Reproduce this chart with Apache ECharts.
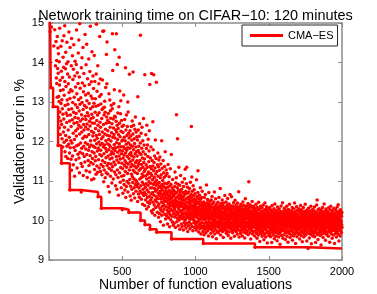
<!DOCTYPE html>
<html><head><meta charset="utf-8">
<script src="https://cdn.jsdelivr.net/npm/echarts@6/dist/echarts.min.js"></script>
<style>html,body{margin:0;padding:0;background:#fff}#c{width:377px;height:294px}</style>
</head><body><div id="c"></div>
<script>
const chartTitle = 'Network training time on CIFAR\u221210: 120 minutes';
const seriesName = 'CMA\u2212ES';
const xTicks = [0, 500, 1000, 1500, 2000];
const yTicks = [9, 10, 11, 12, 13, 14, 15];
// best-so-far validation error (step line): evaluation at which it improved, and the new value
const bestEvals = [1, 8, 12, 28, 62, 85, 142, 220, 335, 357, 500, 545, 625, 655, 690, 735, 836, 1053, 1406, 1768, 2000];
const bestErr = [15.62, 14.78, 13.36, 12.88, 11.9, 11.45, 10.77, 10.72, 10.6, 10.31, 10.27, 10.2, 10.0, 9.89, 9.78, 9.7, 9.53, 9.42, 9.32, 9.29, 9.29];
// validation error of each function evaluation (evaluation number = index + 1)
const errs = [
15.62,18.4,21.7,16.9,19.3,17.2,24.5,14.78,16.1,20.6,15.9,13.36,17.8,15.4,22.1,16.6,14.9,19.9,15.7,18.2,16.3,26.4,15.2,17.5,20.3,15.8,16.7,12.88,18.9,15.3,16.4,21.2,14.42,17.1,15.6,19.5,16.2,15.1,14.83,18.7,16.9,15.5,20.8,13.92,17.4,15.2,16.5,14.53,19.2,13.61,
16.8,14.05,13.47,19.1,15.3,13.12,14.66,17.9,13.85,15.7,14.37,11.9,13.73,16.2,14.22,13.14,12.61,15.9,13.01,14.02,12.34,13.43,14.87,18.3,12.75,13.55,12.18,15.4,13.29,12.52,14.41,12.96,16.6,13.78,11.45,12.43,15.2,13.06,12.07,14.55,12.83,13.62,17.4,11.86,12.69,14.13,13.31,12.24,15.6,13.88,
12.57,14.68,11.98,13.17,16.1,12.36,14.93,13.52,11.74,12.91,15.3,13.84,12.15,14.26,11.62,13.39,12.72,18.2,12.03,13.97,12.48,14.51,11.88,13.05,15.8,12.66,13.71,11.57,12.94,14.02,12.29,13.46,16.4,11.93,12.81,14.77,13.24,12.11,13.63,11.71,12.52,10.77,13.09,14.38,11.84,12.67,15.1,13.31,12.02,11.55,
12.38,13.92,11.27,14.61,12.83,15.7,11.96,13.28,12.55,14.17,11.63,12.99,13.57,17.1,12.21,11.41,13.83,12.74,14.45,11.85,12.46,13.12,15.2,12.05,11.12,13.66,12.61,14.03,11.77,12.93,13.38,12.27,16.3,11.54,12.71,13.95,12.14,14.82,11.89,13.21,12.48,11.33,13.74,12.86,15.4,12.32,11.68,13.47,12.59,14.24,
11.92,13.06,12.41,14.57,11.58,12.77,13.63,11.21,12.19,14.98,12.94,11.73,13.35,12.52,15.5,11.96,13.11,12.36,11.44,10.72,13.87,12.68,11.83,12.24,14.12,12.99,11.37,13.48,12.57,11.69,12.08,14.38,12.81,11.14,13.26,12.43,11.88,13.72,12.29,16.2,11.62,12.91,13.41,12.13,11.48,14.71,12.64,11.97,13.18,12.37,
11.81,12.56,13.94,11.26,12.87,12.12,14.46,11.67,13.03,12.44,11.09,12.73,13.59,11.93,15.3,12.31,11.52,13.22,12.65,11.78,14.09,12.18,11.39,12.96,13.44,11.86,12.51,11.23,13.77,12.39,11.64,14.92,12.83,12.02,11.47,13.15,12.58,11.91,13.51,12.26,11.03,12.69,14.27,11.74,12.47,13.09,11.57,12.88,12.14,13.66,
11.43,12.61,11.88,13.34,12.22,11.06,12.97,11.71,14.18,12.46,11.29,12.03,13.52,11.85,12.74,11.51,13.08,12.33,11.62,12.89,11.17,13.71,12.15,14.97,11.94,12.53,11.38,13.27,12.08,11.76,12.67,11.22,13.92,12.41,10.6,11.83,12.92,11.54,12.27,13.46,11.99,12.73,11.33,12.18,13.14,14.66,11.67,12.49,11.91,13.58,
11.24,12.36,11.78,12.95,11.42,13.19,10.31,12.07,11.63,12.58,11.16,12.81,11.95,12.24,13.56,11.51,14.79,12.12,11.37,12.85,11.86,12.43,10.98,14.8,11.69,12.67,11.28,12.87,11.91,13.02,12.19,11.47,12.74,11.08,12.31,11.82,13.37,12.02,11.59,12.46,11.21,14.2,11.75,12.62,13.46,14.52,11.39,12.16,11.94,12.53,
11.18,12.27,11.63,10.86,12.71,11.44,12.05,11.79,13.21,11.32,12.48,11.91,10.72,12.14,13.05,11.56,12.36,11.87,12.78,11.12,12.59,11.68,12.01,11.43,12.92,11.27,12.22,11.74,10.95,12.45,11.58,12.83,14.73,11.36,13.8,12.11,11.82,12.57,11.05,12.34,11.69,12.96,11.48,12.18,11.92,13.31,11.23,12.64,14.32,11.77,
12.09,11.41,12.62,10.88,11.84,12.29,11.16,12.51,11.62,14.73,11.97,12.24,10.79,11.53,12.41,13.95,11.28,12.05,11.73,12.72,11.09,12.33,11.86,10.64,12.17,11.47,12.88,11.63,14.13,11.94,12.46,11.21,13.28,11.78,12.12,10.97,11.56,12.7,11.34,13.03,11.87,12.26,10.83,11.69,12.53,11.12,12.01,11.45,12.38,10.27,
11.76,12.04,11.31,10.69,12.23,11.58,11.02,11.87,12.41,13.18,11.14,11.66,10.91,12.11,11.39,11.82,12.56,10.77,11.51,12.02,11.24,13.87,11.71,10.58,12.29,11.46,11.93,10.86,12.67,11.35,11.78,12.15,10.99,11.62,12.38,11.19,11.84,13.0,10.72,12.75,11.43,11.97,12.21,10.94,10.2,11.57,12.09,11.28,13.7,11.68,
11.04,11.83,12.27,10.62,11.49,11.91,10.87,12.14,11.36,11.72,10.51,12.38,11.17,11.64,12.03,10.79,11.42,12.52,11.11,11.88,10.96,11.53,12.19,13.76,11.27,10.68,11.79,12.41,11.06,11.61,10.83,12.07,11.38,11.95,10.57,12.31,11.22,11.69,10.91,12.62,11.47,11.02,11.86,10.74,12.24,11.33,11.74,10.99,12.12,11.51,
10.86,11.63,11.19,12.04,10.48,13.13,11.38,10.93,11.77,12.29,10.67,11.44,11.88,10.82,12.13,11.27,10.59,11.71,12.45,11.05,11.52,10.74,11.96,14.69,10.0,11.31,10.88,11.67,12.21,10.54,11.42,11.09,11.83,10.69,12.36,11.18,10.97,11.58,10.41,12.02,11.35,10.79,11.74,11.12,12.58,10.63,11.47,10.91,11.91,11.24,
10.71,11.56,10.38,13.69,9.89,11.29,10.84,11.68,10.52,11.13,12.17,10.66,11.41,10.93,11.82,10.29,11.05,12.41,10.77,11.34,10.58,11.91,11.17,10.46,11.62,10.89,12.06,10.35,11.23,10.72,11.49,10.98,11.76,10.61,12.27,11.08,10.43,13.44,11.37,9.78,10.82,11.58,10.51,11.19,10.94,11.86,10.67,11.31,10.24,13.72,
10.57,11.14,10.83,11.52,10.19,11.03,10.71,11.38,12.5,10.46,11.79,10.92,10.28,11.26,13.69,10.64,11.47,10.39,11.09,10.81,11.63,10.13,10.97,11.33,10.52,12.04,10.74,11.18,10.33,10.89,11.57,10.61,13.5,11.02,9.7,10.47,11.24,10.78,10.21,11.41,10.93,10.56,11.71,10.37,11.12,10.69,11.36,10.08,10.84,11.53,
10.42,10.96,10.18,11.27,10.63,10.87,11.61,10.31,10.74,11.08,9.97,10.55,11.43,10.68,10.26,11.16,10.82,10.47,12.02,10.13,10.91,10.59,11.32,10.36,10.77,11.01,10.22,10.65,11.52,10.44,9.88,10.86,11.21,10.53,10.29,11.09,10.71,10.38,11.37,10.94,10.16,10.62,11.74,10.49,10.83,10.04,11.13,10.57,10.76,11.28,
10.34,10.67,10.12,10.93,10.48,11.19,10.26,10.71,9.91,10.56,10.84,10.19,11.42,10.41,10.63,10.07,10.97,10.32,10.52,11.11,10.23,10.76,9.84,10.44,10.88,10.15,10.61,11.31,10.37,10.69,10.02,10.54,10.91,10.28,11.67,9.53,10.46,10.73,10.11,10.58,10.82,9.96,10.39,11.04,10.24,10.66,10.49,9.88,10.77,10.35,
10.18,10.62,10.41,9.93,10.74,10.27,10.86,10.09,10.52,11.23,10.33,10.68,9.82,10.45,10.95,10.14,10.57,10.38,11.08,12.68,10.22,10.71,9.97,10.49,10.83,10.06,12.07,10.36,10.61,10.19,10.92,9.87,10.43,10.77,10.29,11.35,10.12,10.55,10.01,10.66,10.34,10.89,9.78,10.47,10.24,10.73,10.07,11.14,10.39,10.58,
10.21,10.64,9.91,10.43,10.79,10.13,10.52,9.84,10.36,10.97,10.26,10.58,10.04,10.71,10.17,10.45,9.76,10.33,10.86,10.09,10.62,10.28,9.95,10.51,11.06,10.19,10.41,9.88,10.67,11.3,10.02,10.38,10.74,10.15,9.81,10.55,10.31,10.93,10.07,11.35,10.47,9.93,10.23,10.69,10.11,10.84,9.72,10.36,10.59,10.18,
10.44,9.87,10.29,10.72,10.06,10.53,9.96,10.35,10.81,10.14,10.61,9.79,10.42,10.25,10.97,10.03,10.48,10.19,9.91,10.66,10.32,12.38,10.11,10.57,11.1,9.85,10.39,10.74,10.08,10.27,10.51,9.74,10.16,10.88,10.37,10.02,10.63,10.21,9.94,10.46,10.78,10.09,10.31,9.82,10.55,10.24,10.68,9.98,10.41,10.13,
10.36,9.89,10.52,10.17,9.76,10.43,11.03,10.08,10.29,9.94,10.61,10.22,9.83,10.47,10.14,10.71,11.26,9.97,10.33,10.05,10.56,9.71,10.26,10.42,9.88,10.19,10.64,10.01,10.37,9.79,10.49,10.12,10.83,9.92,10.28,10.55,9.66,10.21,10.39,9.86,10.07,10.58,10.31,9.95,10.16,10.74,9.81,10.44,10.03,10.25,
9.72,10.38,9.42,10.11,10.47,9.87,10.23,9.64,10.32,10.05,10.58,9.93,10.17,9.78,10.41,10.02,10.66,9.85,10.27,10.09,9.69,10.35,10.14,9.96,10.9,10.21,9.82,10.45,10.06,9.91,10.29,10.53,9.74,10.12,10.37,9.88,10.19,9.61,10.42,10.04,10.71,9.97,10.24,9.79,10.33,10.08,9.86,10.49,10.16,9.94,
10.27,9.83,10.11,10.39,9.68,10.05,10.52,9.91,10.18,9.77,10.34,10.02,10.61,9.86,10.23,9.59,10.14,10.43,9.95,10.08,9.73,10.31,10.19,9.89,10.47,10.01,9.81,10.26,10.72,9.93,10.12,9.66,10.36,10.04,9.84,10.21,10.55,9.97,10.15,9.76,10.29,9.54,10.07,10.41,9.88,10.17,9.94,10.33,9.71,10.09,
10.24,9.85,10.46,9.98,10.13,9.69,10.32,10.06,9.82,10.58,10.19,9.92,10.37,9.74,10.03,10.27,9.87,10.14,10.81,9.96,10.22,9.63,10.09,10.43,9.9,10.16,9.78,10.35,10.01,9.84,10.29,10.52,9.95,10.11,9.72,10.38,10.04,9.89,10.21,9.57,10.07,10.44,9.93,10.18,9.8,10.31,10.02,9.86,10.25,10.63,
9.91,10.13,9.76,10.34,10.06,9.84,10.22,9.97,10.47,9.68,10.11,10.28,9.88,10.04,9.73,10.39,10.17,9.93,10.56,9.81,10.09,10.26,9.62,10.01,10.33,9.87,10.14,9.95,10.42,9.71,10.19,10.03,9.85,10.31,9.98,10.66,9.79,10.12,9.9,10.24,9.55,10.07,10.37,9.83,10.15,10.6,9.94,10.21,9.74,10.05,
10.29,9.86,10.11,9.69,10.36,10.02,9.92,10.18,9.77,10.45,10.08,9.83,10.23,9.96,10.14,9.6,10.32,10.01,9.89,10.51,9.75,10.17,10.04,9.87,10.27,9.93,10.39,9.72,10.09,10.21,9.81,10.13,9.98,10.34,9.66,10.06,10.44,9.91,10.19,9.78,10.03,10.28,9.85,10.12,10.73,9.95,10.22,9.58,10.07,10.35,
9.88,10.16,9.74,10.31,10.02,9.9,10.24,9.67,10.09,10.41,9.83,10.13,9.97,10.27,9.76,10.05,10.36,9.92,10.18,9.61,10.01,10.22,9.86,10.47,9.79,10.11,9.94,10.29,9.71,10.07,10.19,9.84,10.38,9.98,10.14,9.56,10.04,10.25,9.89,10.55,9.77,10.1,9.93,10.33,9.68,10.06,10.2,9.85,10.12,9.96,
10.28,9.73,10.08,10.37,9.87,10.15,9.95,10.43,9.64,10.03,10.21,9.82,10.11,10.98,9.91,10.26,9.78,10.06,10.32,9.94,10.17,9.69,10.01,10.39,9.86,10.13,9.53,10.23,9.97,10.09,9.81,10.34,10.04,9.75,10.19,9.92,10.48,9.84,10.12,9.66,10.07,10.27,9.89,10.16,9.99,10.36,9.72,10.05,10.22,9.83,
10.14,9.93,10.31,9.61,10.02,9.32,10.18,9.86,10.09,9.74,10.25,9.97,10.41,9.81,10.06,9.68,10.2,9.91,10.12,9.55,10.03,10.33,9.85,10.15,9.77,10.08,9.94,10.27,9.63,10.01,10.46,9.88,10.11,9.72,10.19,9.96,9.84,10.29,9.47,10.05,9.92,10.17,9.79,10.36,9.99,9.67,10.1,9.87,10.23,9.95,
9.73,10.13,9.89,10.32,9.6,10.04,9.92,10.21,9.82,10.07,9.7,10.39,9.96,10.15,9.78,10.01,9.51,10.26,9.87,10.09,9.65,10.18,9.94,10.44,9.8,10.03,9.9,10.28,9.58,10.11,9.98,9.76,10.2,9.85,10.35,9.69,10.06,9.93,10.14,9.43,9.99,10.24,9.83,10.1,9.71,10.31,9.95,9.88,10.17,9.62,
10.02,9.86,10.19,9.74,10.08,9.95,10.33,9.67,9.91,10.14,9.81,10.27,9.59,10.04,9.89,10.11,9.76,10.22,9.97,9.44,10.06,9.84,10.38,9.7,9.93,10.16,9.79,10.01,9.63,10.24,9.88,10.09,9.73,9.96,10.3,9.82,10.13,9.54,9.99,10.18,9.87,10.42,9.69,10.05,9.92,9.78,10.21,9.6,10.07,9.94,
10.12,9.71,9.98,10.26,9.83,10.03,9.49,10.17,9.9,10.34,9.75,10.08,9.95,9.66,10.2,9.86,10.11,9.58,10.01,9.93,10.29,9.8,10.06,9.68,10.15,9.97,9.4,10.1,9.84,10.23,9.72,10.04,9.91,10.37,9.77,9.99,10.13,9.62,10.07,9.88,10.19,9.74,9.96,10.45,9.85,10.02,9.55,10.16,9.92,10.09,
9.78,10.24,9.89,9.64,10.05,9.94,10.31,9.73,10.12,9.86,9.98,10.18,9.52,10.03,9.9,10.26,9.81,10.09,9.69,9.96,10.14,9.84,10.36,9.6,10.01,9.93,10.2,9.76,10.07,9.88,9.45,10.11,9.97,10.28,9.71,10.04,9.85,10.16,9.67,9.99,10.41,9.82,10.08,9.92,9.57,10.22,9.87,10.02,9.74,10.13,
9.95,9.8,10.25,9.63,10.06,9.9,10.17,9.75,10.01,10.33,9.86,9.5,10.1,9.94,10.21,9.7,10.03,9.84,10.14,9.61,9.97,10.29,9.79,10.07,9.89,10.44,9.66,10.0,9.92,10.18,9.77,10.05,9.42,9.96,10.23,9.83,10.12,9.72,9.98,10.35,9.87,10.04,9.59,10.15,9.91,9.81,10.26,9.68,10.08,9.95,
10.11,9.76,10.02,9.88,10.3,9.65,9.99,10.19,9.85,10.06,9.53,9.93,10.24,9.79,10.09,9.9,10.38,9.7,10.03,9.96,9.62,10.15,9.84,10.27,9.74,10.01,9.89,10.12,9.46,9.97,10.2,9.82,10.07,9.69,9.94,10.33,9.87,10.04,9.58,10.16,9.92,9.78,10.23,9.66,10.0,9.86,10.13,9.73,10.41,9.95,
9.81,10.08,9.63,10.17,9.91,10.02,9.77,10.26,9.87,9.48,10.05,9.94,10.21,9.71,9.99,10.12,9.84,9.29,10.09,9.68,10.31,9.89,10.03,9.79,9.96,10.18,9.56,10.06,9.92,10.24,9.74,10.01,9.86,10.14,9.65,9.97,10.36,9.83,10.07,9.9,9.41,10.11,9.78,10.2,9.93,9.7,10.04,9.88,10.28,9.61,
10.0,9.85,10.15,9.73,10.06,9.95,10.25,9.67,9.98,10.1,9.82,10.34,9.59,10.03,9.91,10.19,9.76,10.07,9.87,9.44,10.13,9.96,10.22,9.7,10.02,9.89,10.39,9.8,10.08,10.52,9.64,9.97,10.17,9.84,10.05,9.52,10.27,9.93,9.78,10.11,9.88,10.01,9.69,10.3,9.92,10.14,9.75,9.99,10.21,9.86,
9.62,10.09,9.94,10.18,9.8,10.04,9.38,9.97,10.26,9.72,10.07,9.9,10.13,9.66,10.0,9.85,10.33,9.77,10.1,9.95,9.57,10.2,9.88,10.03,9.74,10.15,9.92,10.42,9.83,9.98,9.68,10.11,9.91,10.24,9.79,10.05,9.5,10.16,9.87,9.96,10.29,9.73,10.02,9.84,10.12,9.64,10.07,9.93,10.19,9.81,
9.99,10.23,9.7,10.06,9.89,10.14,9.6,9.95,10.32,9.82,10.08,9.92,10.17,9.76,10.01,9.45,10.11,9.86,10.27,9.71,10.04,9.94,10.36,9.8,9.97,10.13,9.66,10.05,9.9,10.2,9.78,10.0,9.55,10.09,9.87,10.25,9.74,10.03,9.93,10.16,9.84,9.63,10.1,9.96,10.31,9.79,10.06,9.89,9.42,10.12,
9.91,10.19,9.75,10.02,9.85,10.28,9.68,9.98,10.14,9.81,10.07,9.58,10.22,9.94,10.04,9.77,10.34,9.88,10.09,9.72,9.99,10.15,9.83,10.4,9.65,10.01,9.92,10.18,9.48,10.06,9.86,10.24,9.79,10.03,9.95,10.12,9.61,10.08,9.9,10.27,9.74,10.0,9.84,10.16,9.97,9.69,10.11,9.89,10.21,9.82
];

const font = '"Liberation Sans", Arial, sans-serif';
const axisGray = '#8a8a8a';
const chart = echarts.init(document.getElementById('c'), null, {renderer: 'canvas'});
const points = errs.map((v, i) => [i + 1, v]);
const best = bestEvals.map((e, i) => [e, bestErr[i]]);

function xAx(pos, labels) {
  return {
    type: 'value', position: pos, min: xTicks[0], max: xTicks[xTicks.length - 1],
    interval: xTicks[1] - xTicks[0],
    axisLine: {show: true, onZero: false, lineStyle: {color: axisGray, width: 1.5}},
    axisTick: {show: true, inside: true, length: 4, lineStyle: {color: axisGray, width: 1}},
    axisLabel: labels ? {show: true, color: '#000', fontSize: 11, fontFamily: font, margin: 6,
      formatter: v => (v === 0 ? '' : String(v))} : {show: false},
    splitLine: {show: false},
    name: labels ? 'Number of function evaluations' : '',
    nameLocation: 'middle', nameGap: 18, nameMoveOverlap: false,
    nameTextStyle: {color: '#000', fontSize: 14, fontFamily: font}
  };
}
function yAx(pos, labels) {
  return {
    type: 'value', position: pos, min: yTicks[0], max: yTicks[yTicks.length - 1],
    interval: yTicks[1] - yTicks[0],
    axisLine: {show: true, onZero: false, lineStyle: {color: axisGray, width: 1.5}},
    axisTick: {show: true, inside: true, length: 4, lineStyle: {color: axisGray, width: 1}},
    axisLabel: labels ? {show: true, color: '#000', fontSize: 11, fontFamily: font, margin: 5} : {show: false},
    splitLine: {show: false},
    name: labels ? 'Validation error in %' : '',
    nameLocation: 'middle', nameGap: 22, nameMoveOverlap: false,
    nameTextStyle: {color: '#000', fontSize: 14, fontFamily: font}
  };
}

chart.setOption({
  animation: false,
  backgroundColor: '#fff',
  textStyle: {fontFamily: font},
  title: {
    text: chartTitle, left: 190.5, top: 3, textAlign: 'center',
    textStyle: {color: '#000', fontSize: 14.5, fontWeight: 'normal', fontFamily: font}
  },
  grid: {left: 49, right: 35, top: 23, bottom: 34, containLabel: false, outerBoundsMode: 'none'},
  legend: {
    data: [{name: seriesName, icon: 'rect'}],
    left: 242, top: 25, itemWidth: 33, itemHeight: 3, itemGap: 0,
    padding: [5, 4, 5, 8], backgroundColor: '#fff', borderColor: '#262626', borderWidth: 1,
    textStyle: {color: '#000', fontSize: 11, fontFamily: font}
  },
  xAxis: [xAx('bottom', true), xAx('top', false)],
  yAxis: [yAx('left', true), yAx('right', false)],
  series: [
    {
      type: 'scatter', name: 'evals', data: points, symbol: 'circle', symbolSize: 3.5,
      itemStyle: {color: '#ff0000', opacity: 1}, clip: true, silent: true, z: 2
    },
    {
      type: 'line', name: seriesName, data: best, step: 'end', symbol: 'none', showSymbol: false,
      lineStyle: {color: '#ff0000', width: 2.5}, itemStyle: {color: '#ff0000'}, clip: true, z: 3
    }
  ]
});
</script>
</body></html>
